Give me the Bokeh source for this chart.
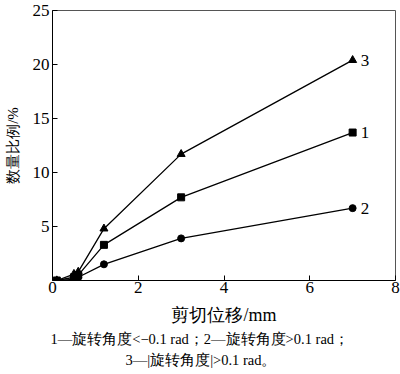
from bokeh.plotting import figure
from bokeh.models import Title, FixedTicker, ColumnDataSource
from bokeh.core.properties import value
from bokeh.embed import file_html
from bokeh.resources import INLINE

# data
shear = [0.1, 0.5, 0.6, 1.2, 3.0, 7.0]
s1 = [0.0, 0.3, 0.5, 3.3, 7.7, 13.7]   # rotation < -0.1 rad (square)
s2 = [0.0, 0.1, 0.3, 1.5, 3.9, 6.7]    # rotation > 0.1 rad (circle)
s3 = [0.0, 0.6, 0.8, 4.8, 11.7, 20.4]  # |rotation| > 0.1 rad (triangle)
series_names = ["1", "2", "3"]
x_ticks = [0, 2, 4, 6, 8]
y_ticks = [5, 10, 15, 20, 25]

SERIF = "Liberation Serif"

p = figure(width=400, height=374, x_range=(0, 8), y_range=(0, 25),
           output_backend="svg", toolbar_location=None,
           min_border_left=52, min_border_right=5, min_border_top=10,
           min_border_bottom=94)
p.background_fill_color = "white"
p.border_fill_color = "white"
p.grid.visible = False
p.outline_line_color = "#555555"
p.outline_line_width = 1

for ax in (p.xaxis[0], p.yaxis[0]):
    ax.major_tick_in = 5
    ax.major_tick_out = 0
    ax.minor_tick_line_color = None
    ax.axis_line_color = "black"
    ax.major_tick_line_color = "black"
    ax.major_label_text_font = SERIF
    ax.major_label_text_font_size = "17px"
    ax.major_label_text_color = "black"
    ax.axis_label_text_font = SERIF
    ax.axis_label_text_font_style = "normal"
    ax.axis_label_text_color = "black"

p.xaxis.ticker = FixedTicker(ticks=x_ticks)
p.yaxis.ticker = FixedTicker(ticks=y_ticks)
p.xaxis.major_label_standoff = 1
p.yaxis.major_label_standoff = 3
p.xaxis.axis_label = "剪切位移/mm"
p.yaxis.axis_label = "数量比例/%"
p.xaxis.axis_label_text_font_size = "18px"
p.yaxis.axis_label_text_font_size = "15px"
p.xaxis.axis_label_standoff = 9
p.yaxis.axis_label_standoff = 9

p.line(shear, s1, line_color="black", line_width=1.3)
p.scatter(shear, s1, marker="square", size=7, color="black")
p.line(shear, s2, line_color="black", line_width=1.3)
p.scatter(shear, s2, marker="circle", size=7, color="black")
p.line(shear, s3, line_color="black", line_width=1.3)
p.scatter(shear, s3, marker="triangle", size=8, color="black")

lab = ColumnDataSource(dict(x=[shear[-1]] * 3, y=[s1[-1], s2[-1], s3[-1]],
                            t=series_names))
p.text(x="x", y="y", text="t", source=lab, x_offset=8,
       text_font=value(SERIF), text_font_size="17px",
       text_baseline="middle", text_align="left", text_color="black")

cap1 = Title(text="1—旋转角度<−0.1 rad；2—旋转角度>0.1 rad；", align="left",
             text_font=SERIF, text_font_size="14.5px", text_font_style="normal",
             text_color="black", standoff=2, offset=-2)
cap2 = Title(text="3—|旋转角度|>0.1 rad。", align="left",
             text_font=SERIF, text_font_size="14.5px", text_font_style="normal",
             text_color="black", standoff=4, offset=73)
p.add_layout(cap1, "below")
p.add_layout(cap2, "below")

open("out.html", "w").write(file_html(p, INLINE))
